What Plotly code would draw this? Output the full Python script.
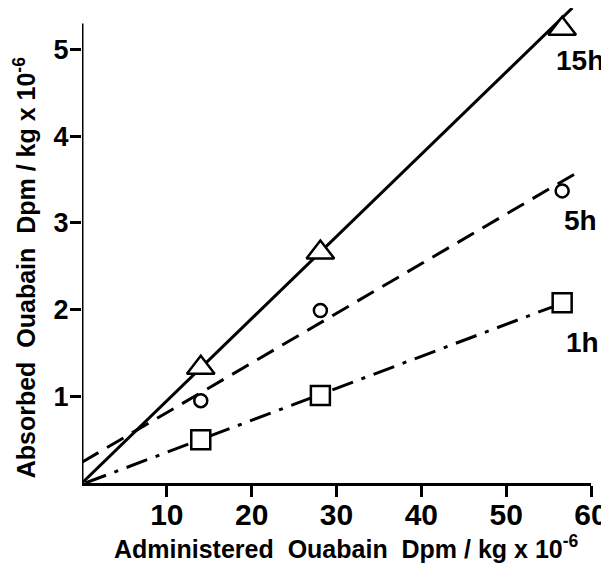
import plotly.graph_objects as go

# Data
administered = [14.0, 28.1, 56.6]
absorbed_15h = [1.33, 2.66, 5.24]
absorbed_5h = [0.95, 1.99, 3.37]
absorbed_1h = [0.50, 1.01, 2.08]

# Fitted lines (endpoints)
fit_15h_x = [0.0, 57.8]
fit_15h_y = [0.0, 5.48]
fit_5h_x = [0.0, 58.7]
fit_5h_y = [0.24, 3.60]
fit_1h_x = [0.4, 55.4]
fit_1h_y = [0.0, 2.03]

series_labels = ["15h", "5h", "1h"]
label_pos_x = [58.7, 58.8, 59.0]
label_pos_y = [4.87, 3.03, 1.62]

x_ticks = [10, 20, 30, 40, 50, 60]
y_ticks = [1, 2, 3, 4, 5]

FONT = "Liberation Sans"
BLACK = "#000000"

fig = go.Figure()

fig.add_trace(go.Scatter(x=fit_15h_x, y=fit_15h_y, mode="lines",
                         line=dict(color=BLACK, width=3), showlegend=False))
fig.add_trace(go.Scatter(x=fit_5h_x, y=fit_5h_y, mode="lines",
                         line=dict(color=BLACK, width=3, dash="19px,10px"), showlegend=False))
fig.add_trace(go.Scatter(x=fit_1h_x, y=fit_1h_y, mode="lines",
                         line=dict(color=BLACK, width=3, dash="22px,9px,4px,9px"), showlegend=False))

fig.add_trace(go.Scatter(x=administered, y=absorbed_15h, mode="markers",
                         marker=dict(symbol="triangle-up", size=24, color="white",
                                     line=dict(color=BLACK, width=2.5)), showlegend=False))
fig.add_trace(go.Scatter(x=administered, y=absorbed_5h, mode="markers",
                         marker=dict(symbol="circle", size=13, color="white",
                                     line=dict(color=BLACK, width=2.5)), showlegend=False))
fig.add_trace(go.Scatter(x=administered, y=absorbed_1h, mode="markers",
                         marker=dict(symbol="square", size=19, color="white",
                                     line=dict(color=BLACK, width=2.5)), showlegend=False))

for txt, lx, ly in zip(series_labels, label_pos_x, label_pos_y):
    fig.add_annotation(x=lx, y=ly, text=txt, showarrow=False,
                       font=dict(family=FONT, size=28, color=BLACK, weight="bold"))

# y axis line (stops below the top of the plot)
fig.add_shape(type="line", xref="x", yref="y", x0=0, x1=0, y0=0, y1=5.3,
              line=dict(color=BLACK, width=3))

fig.add_annotation(xref="paper", yref="paper", x=0.519, y=-0.135,
                   text="Administered  Ouabain  Dpm / kg x 10<sup>-6</sup>",
                   showarrow=False, yanchor="middle",
                   font=dict(family=FONT, size=25, color=BLACK, weight="bold"))
fig.add_annotation(xref="paper", yref="paper", x=-0.113, y=0.453,
                   text="Absorbed  Ouabain  Dpm / kg x 10<sup>-6</sup>",
                   showarrow=False, textangle=-90, xanchor="center", yanchor="middle",
                   font=dict(family=FONT, size=25, color=BLACK, weight="bold"))

# page has an 8px body margin, so the figure is offset by 8px
fig.update_layout(
    width=601, height=561,
    margin=dict(l=74, r=18, t=0, b=86),
    paper_bgcolor="white", plot_bgcolor="white",
    showlegend=False,
)
fig.update_xaxes(range=[0, 60], tickvals=x_ticks, ticktext=[str(v) for v in x_ticks],
                 showline=True, linecolor=BLACK, linewidth=3,
                 ticks="outside", ticklen=11, tickwidth=3, tickcolor=BLACK,
                 ticklabelstandoff=-8,
                 showgrid=False, zeroline=False,
                 tickfont=dict(family=FONT, size=30, color=BLACK, weight="bold"))
fig.update_yaxes(range=[0, 5.48], tickvals=y_ticks, ticktext=[str(v) for v in y_ticks],
                 showline=False,
                 ticks="outside", ticklen=11, tickwidth=3, tickcolor=BLACK,
                 ticklabelstandoff=-4,
                 showgrid=False, zeroline=False,
                 tickfont=dict(family=FONT, size=27, color=BLACK, weight="bold"))

fig.write_html("out.html")
